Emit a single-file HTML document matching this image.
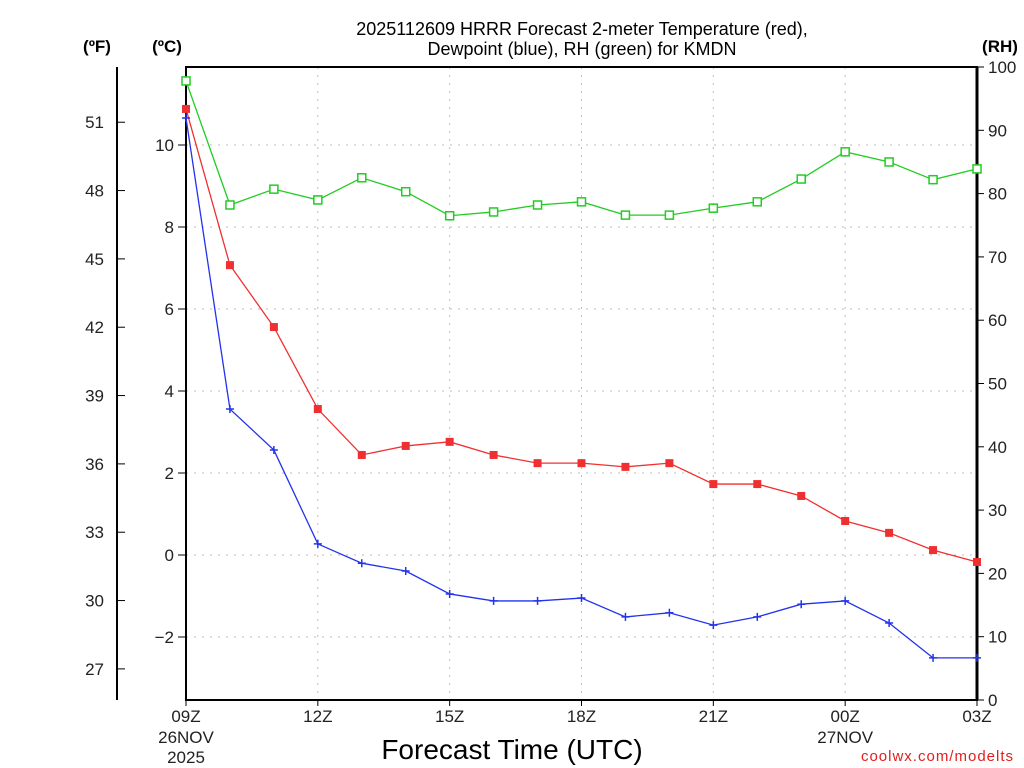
<!DOCTYPE html>
<html><head><meta charset="utf-8"><style>
html,body{margin:0;padding:0;background:#fff;}
svg{display:block;font-family:"Liberation Sans",sans-serif;}
</style></head><body>
<svg id="chart" width="1024" height="768" viewBox="0 0 1024 768" xmlns="http://www.w3.org/2000/svg">
<text x="582" y="35" text-anchor="middle" font-size="18" fill="#000">2025112609 HRRR Forecast 2-meter Temperature (red),</text>
<text x="582" y="55" text-anchor="middle" font-size="18" fill="#000">Dewpoint (blue), RH (green) for KMDN</text>
<text x="97" y="52" text-anchor="middle" font-size="17" font-weight="bold">(ºF)</text>
<text x="167" y="52" text-anchor="middle" font-size="17" font-weight="bold">(ºC)</text>
<text x="1000" y="52" text-anchor="middle" font-size="17" font-weight="bold">(RH)</text>
<text x="512" y="759" text-anchor="middle" font-size="28">Forecast Time (UTC)</text>
<text x="1014" y="761" text-anchor="end" font-size="15" fill="#e02020" letter-spacing="1">coolwx.com/modelts</text>
<g id="grid"></g><g id="axes"></g><g id="series"></g>
</svg>
<script>
const hours = [0,1,2,3,4,5,6,7,8,9,10,11,12,13,14,15,16,17,18];
const tempC = [10.88,7.07,5.56,3.56,2.44,2.66,2.76,2.44,2.24,2.24,2.15,2.24,1.73,1.73,1.44,0.83,0.54,0.12,-0.17];
const dewC = [10.66,3.56,2.56,0.27,-0.2,-0.39,-0.95,-1.12,-1.12,-1.05,-1.51,-1.41,-1.71,-1.51,-1.2,-1.12,-1.66,-2.51,-2.51];
const rh = [97.8,78.2,80.7,79.0,82.5,80.3,76.5,77.1,78.2,78.7,76.6,76.6,77.7,78.7,82.3,86.6,85.0,82.2,83.9];
const cTicks = [-2,0,2,4,6,8,10];
const fTicks = [27,30,33,36,39,42,45,48,51];
const rhTicks = [0,10,20,30,40,50,60,70,80,90,100];
const xTickHours = [0,3,6,9,12,15,18];
const xTickLabels = ["09Z","12Z","15Z","18Z","21Z","00Z","03Z"];
const xSubLabels = {0:["26NOV","2025"],15:["27NOV"]};

const L=186,R=977,T=67,B=700;
const xs=h=>L+h*(R-L)/18;
const yc=c=>555-c*41;
const yf=f=>yc((f-32)/1.8);
const yr=r=>B-r*(B-T)/100;
const NS="http://www.w3.org/2000/svg";
function mk(parent,tag,attrs,text){const e=document.createElementNS(NS,tag);for(const k in attrs)e.setAttribute(k,attrs[k]);if(text!==undefined)e.textContent=text;document.getElementById(parent).appendChild(e);return e;}

cTicks.forEach(c=>{
  const g=mk('grid','line',{x1:L,x2:R,y1:yc(c),y2:yc(c),stroke:'#bbb','stroke-dasharray':'2 6'});
  
  
  const t=mk('axes','line',{x1:L-8,x2:L,y1:yc(c),y2:yc(c),stroke:'#000'});
  
  
  const l=mk('axes','text',{x:L-12,y:yc(c)+6,'text-anchor':'end','font-size':17,fill:'#222'},c<0?'\u2212'+(-c):String(c));
  
  
});
xTickHours.forEach((h,i)=>{
  if(i>0&&i<xTickHours.length-1){
    const g=mk('grid','line',{x1:xs(h),x2:xs(h),y1:T,y2:B,stroke:'#bbb','stroke-dasharray':'2 6'});
    
    
  }
  const t=mk('axes','line',{x1:xs(h),x2:xs(h),y1:B,y2:B+6,stroke:'#000'});
  
  
  const l=mk('axes','text',{x:xs(h),y:B+22,'text-anchor':'middle','font-size':17,fill:'#222'},xTickLabels[i]);
  
  
  (xSubLabels[h]||[]).forEach((s,j)=>{
    const sl=mk('axes','text',{x:xs(h),y:B+43+j*20,'text-anchor':'middle','font-size':17,fill:'#222'},s);
    
    
  });
});
fTicks.forEach(f=>{
  const t=mk('axes','line',{x1:117,x2:125,y1:yf(f),y2:yf(f),stroke:'#000'});
  
  
  const l=mk('axes','text',{x:104,y:yf(f)+6,'text-anchor':'end','font-size':17,fill:'#222'},String(f));
  
  
});
rhTicks.forEach(r=>{
  const t=mk('axes','line',{x1:R,x2:R+7,y1:yr(r),y2:yr(r),stroke:'#000'});
  
  
  const l=mk('axes','text',{x:R+11,y:yr(r)+6,'font-size':17,fill:'#222'},String(r));
  
  
});
const fl=mk('axes','line',{x1:117,x2:117,y1:T,y2:B,stroke:'#000','stroke-width':2});


const fr=mk('axes','rect',{x:L,y:T,width:R-L,height:B-T,fill:'none',stroke:'#000','stroke-width':2});


const rl=mk('axes','line',{x1:R,x2:R,y1:T,y2:B,stroke:'#000','stroke-width':3});



function series(name,vals,yfn,color,marker){
  const pts=vals.map((v,i)=>xs(hours[i])+','+yfn(v)).join(' ');
  const pl=mk('series','polyline',{points:pts,fill:'none',stroke:color,'stroke-width':1.3});
  
  
  vals.forEach((v,i)=>{
    const x=xs(hours[i]),y=yfn(v);let m;
    if(marker==='fill')m=mk('series','rect',{x:x-4,y:y-4,width:8,height:8,fill:color});
    else if(marker==='open')m=mk('series','rect',{x:x-4,y:y-4,width:8,height:8,fill:'#fff',stroke:color,'stroke-width':1.5});
    else m=mk('series','path',{d:`M${x-4} ${y}H${x+4}M${x} ${y-4}V${y+4}`,stroke:color,'stroke-width':1.5});
    
    
  });
}
series('rh',rh,yr,'#22cc22','open');
series('temperature',tempC,yc,'#f03030','fill');
series('dewpoint',dewC,yc,'#2233ee','plus');
</script>
</body></html>
